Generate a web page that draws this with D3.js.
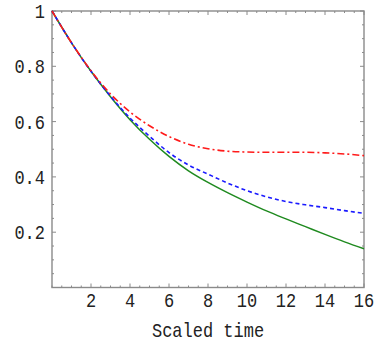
<!DOCTYPE html>
<html><head><meta charset="utf-8">
<script src="https://cdn.jsdelivr.net/npm/d3@7"></script>
<style>body{margin:0;background:#fff}svg text{font-family:"Liberation Mono","DejaVu Sans Mono",monospace;fill:#222}</style>
</head><body><svg id="c" width="391" height="346"></svg>
<script>
const times = [0,1,2,3,4,5,6,7,8,9,10,11,12,13,14,15,16];
const greenVals = [1,0.885,0.782,0.690,0.607,0.536,0.474,0.422,0.380,0.343,0.309,0.277,0.248,0.220,0.192,0.165,0.140];
const blueVals  = [1,0.885,0.782,0.692,0.613,0.547,0.488,0.443,0.410,0.378,0.350,0.328,0.311,0.299,0.289,0.278,0.268];
const redVals   = [1,0.885,0.784,0.700,0.635,0.585,0.546,0.518,0.502,0.493,0.490,0.489,0.489,0.489,0.487,0.483,0.477];
const xTicks = [2,4,6,8,10,12,14,16];
const yTicks = [0.2,0.4,0.6,0.8,1];
const xLabel = "Scaled time";

const L=52,R=364,T=11,B=287.5;
const svg=d3.select("#c");
const x=d3.scaleLinear().domain([0,16]).range([L,R]);
const y=d3.scaleLinear().domain([0,1]).range([B,T]);
const frame="#8a8a8a";

const xMinor=d3.range(0,16.001,0.5);
const yMinor=d3.range(0,1.0001,0.05);
const g=svg.append("g").attr("stroke",frame).attr("stroke-width",1);
xMinor.forEach(v=>{const major=xTicks.some(t=>Math.abs(t-v)<1e-6);const len=major?4:2;
  g.append("line").attr("x1",x(v)).attr("x2",x(v)).attr("y1",B).attr("y2",B-len);
  g.append("line").attr("x1",x(v)).attr("x2",x(v)).attr("y1",T).attr("y2",T+len);});
yMinor.forEach(v=>{const major=yTicks.some(t=>Math.abs(t-v)<1e-6);const len=major?4:2;
  g.append("line").attr("y1",y(v)).attr("y2",y(v)).attr("x1",L).attr("x2",L+len);
  g.append("line").attr("y1",y(v)).attr("y2",y(v)).attr("x1",R).attr("x2",R-len);});

svg.append("rect").attr("x",L).attr("y",T).attr("width",R-L).attr("height",B-T)
  .attr("fill","none").attr("stroke",frame).attr("stroke-width",1.4);

const sy=1.18;
svg.append("g").selectAll("text").data(xTicks).join("text")
  .attr("transform",d=>`translate(${x(d)},307) scale(1,${sy})`).attr("text-anchor","middle").attr("font-size",17).text(d=>d);
svg.append("g").selectAll("text").data(yTicks).join("text")
  .attr("transform",d=>`translate(45,${y(d)+7}) scale(1,${sy})`).attr("text-anchor","end").attr("font-size",17).text(d=>d);
svg.append("text").attr("transform",`translate(${(L+R)/2},337) scale(1,${sy})`).attr("text-anchor","middle").attr("font-size",17).text(xLabel);

const line=d3.line().x((d,i)=>x(times[i])).y(d=>y(d)).curve(d3.curveMonotoneX);
const plot=svg.append("g").attr("fill","none");
plot.append("path").attr("d",line(greenVals)).attr("stroke","#1f8a1f").attr("stroke-width",1.5);
plot.append("path").attr("d",line(blueVals)).attr("stroke","#1a1aff").attr("stroke-width",1.6).attr("stroke-dasharray","4,3");
plot.append("path").attr("d",line(redVals)).attr("stroke","#ff1a1a").attr("stroke-width",1.6).attr("stroke-dasharray","7,3,2,3");
</script></body></html>
